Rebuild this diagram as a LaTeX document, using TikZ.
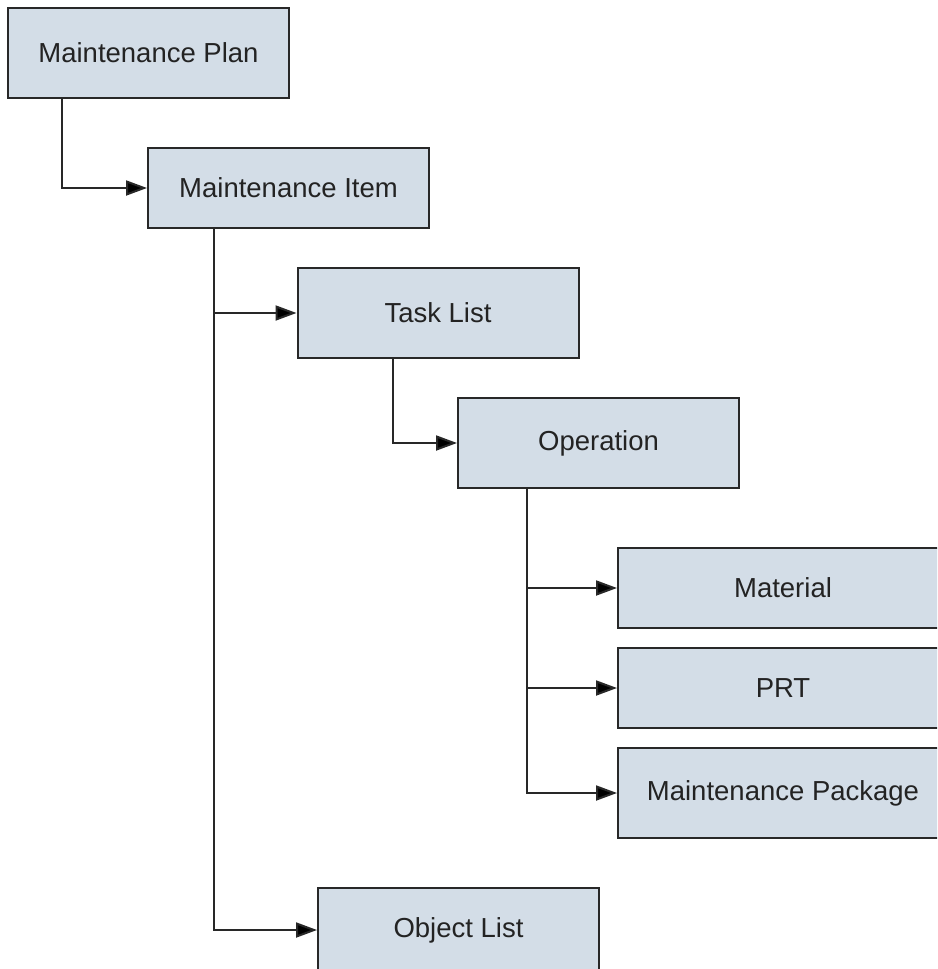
\documentclass[tikz,border=0pt]{standalone}
\usepackage{fontspec}
\setmainfont{Liberation Sans}
\usetikzlibrary{arrows.meta,calc}
\definecolor{boxfill}{RGB}{211,221,231}
\definecolor{boxline}{RGB}{40,40,40}
\definecolor{txt}{RGB}{35,35,35}
\begin{document}
\begin{tikzpicture}[x=1pt,y=-1pt,
  box/.style={draw=boxline,fill=boxfill,line width=2pt,rectangle,inner sep=0pt,
    minimum width=#1,text=txt,font=\fontsize{27.5}{32}\selectfont},
  box/.default=281pt,
  conn/.style={draw=boxline,line width=2pt,-{Triangle[length=21pt,width=15pt,fill=black]}}]
\useasboundingbox (0,0) rectangle (937,969);
\clip (0,0) rectangle (937,969);
\fill[white] (0,0) rectangle (937,969);
\node[box,minimum height=90pt] (plan) at (148.5,53) {Maintenance Plan};
\node[box,minimum height=80pt] (item) at (288.5,188) {Maintenance Item};
\node[box,minimum height=90pt] (task) at (438,313) {Task List};
\node[box,minimum height=90pt] (op) at (598.5,443) {Operation};
\node[box=330pt,minimum height=80pt] (mat) at (783,588) {Material};
\node[box=330pt,minimum height=80pt] (prt) at (783,688) {PRT};
\node[box=330pt,minimum height=90pt] (pkg) at (783,793) {Maintenance Package};
\node[box,minimum height=84pt] (obj) at (458.5,930) {Object List};
\draw[conn] ($(plan.south west)+(55,0)$) |- (item.west);
\draw[conn] ($(item.south west)+(67,0)$) |- (task.west);
\draw[conn] ($(item.south west)+(67,0)$) |- (obj.west);
\draw[conn] ($(task.south west)+(96,0)$) |- (op.west);
\draw[conn] ($(op.south west)+(70,0)$) |- (mat.west);
\draw[conn] ($(op.south west)+(70,0)$) |- (prt.west);
\draw[conn] ($(op.south west)+(70,0)$) |- (pkg.west);
\end{tikzpicture}
\end{document}
